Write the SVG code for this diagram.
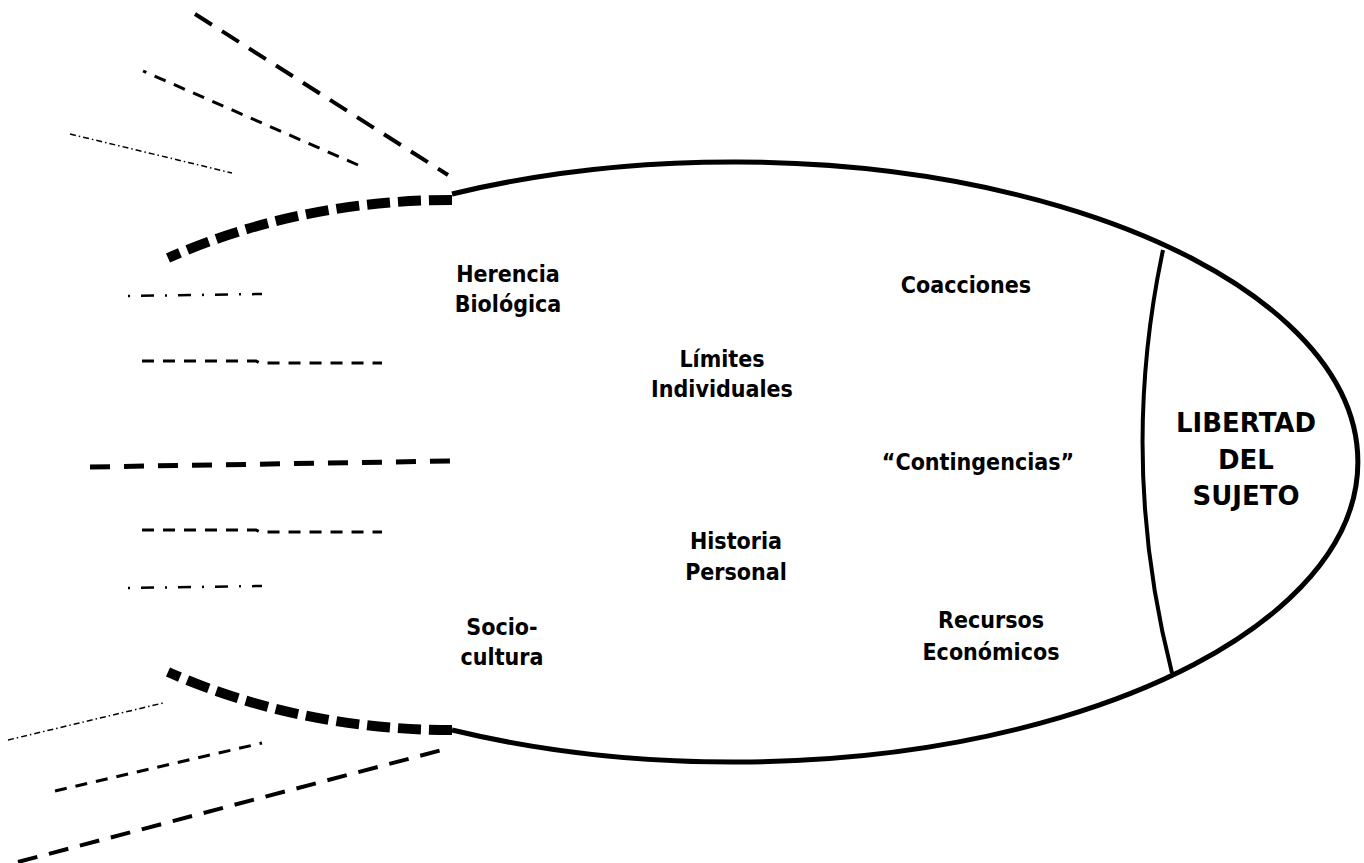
<svg xmlns="http://www.w3.org/2000/svg" width="1364" height="863" viewBox="0 0 1364 863">
<style>
  .solid { fill: none; stroke: #000; stroke-width: 5; }
  .inner { fill: none; stroke: #000; stroke-width: 4; }
  .thickarc { fill: none; stroke: #000; stroke-width: 10; stroke-dasharray: 23 8; }
  .longdash { fill: none; stroke: #000; stroke-width: 4; stroke-dasharray: 20 12; }
  .meddash { fill: none; stroke: #000; stroke-width: 3; stroke-dasharray: 12 9; }
  .dashdot { fill: none; stroke: #000; stroke-width: 2.5; stroke-dasharray: 13 11 2 11; }
  .thindashdot { fill: none; stroke: #000; stroke-width: 1.5; stroke-dasharray: 6 3 1.5 3; }
  .hthick { fill: none; stroke: #000; stroke-width: 5; stroke-dasharray: 20 14; }
  .lbl { font-family: "DejaVu Sans Condensed", "DejaVu Sans", sans-serif; font-weight: bold; font-size: 23px; fill: #000; text-anchor: middle; }
  .big { font-family: "DejaVu Sans", sans-serif; font-weight: bold; font-size: 26px; fill: #000; text-anchor: middle; }
</style>
<rect width="1364" height="863" fill="#fff"/>
<g id="capsule">
  <path class="solid" d="M452,194 A625,300 0 1 1 452,730"/>
  <path class="thickarc" d="M452,200 Q300,200 168,258"/>
  <path class="thickarc" d="M452,730 Q300,730 168,672"/>
</g>
<g id="libertad">
  <path class="inner" d="M1163,250 Q1118,462 1172,673"/>
  <text class="big" x="1246" y="432">LIBERTAD</text>
  <text class="big" x="1246" y="469">DEL</text>
  <text class="big" x="1246" y="505">SUJETO</text>
</g>
<g id="connectors">
  <line class="longdash" x1="195" y1="14" x2="448" y2="175"/>
  <line class="meddash" x1="358" y1="165" x2="143" y2="71"/>
  <line class="thindashdot" x1="70" y1="134" x2="232" y2="173"/>
  <line class="dashdot" x1="128" y1="296" x2="262" y2="294" stroke-dashoffset="24"/>
  <polyline class="meddash" points="142,361 256,361 260,363 382,363"/>
  <line class="hthick" x1="90" y1="467" x2="450" y2="461"/>
  <polyline class="meddash" points="142,530 256,530 260,532 382,532"/>
  <line class="dashdot" x1="128" y1="588" x2="262" y2="586" stroke-dashoffset="24"/>
  <line class="thindashdot" x1="8" y1="740" x2="163" y2="703"/>
  <line class="meddash" x1="55" y1="791" x2="262" y2="743"/>
  <line class="longdash" x1="18" y1="862" x2="442" y2="750"/>
</g>
<g id="herencia">
  <text class="lbl" x="508" y="282">Herencia</text>
  <text class="lbl" x="508" y="312">Biológica</text>
</g>
<g id="coacciones">
  <text class="lbl" x="966" y="293">Coacciones</text>
</g>
<g id="limites">
  <text class="lbl" x="722" y="367">Límites</text>
  <text class="lbl" x="722" y="397">Individuales</text>
</g>
<g id="contingencias">
  <text class="lbl" x="978" y="470">“Contingencias”</text>
</g>
<g id="historia">
  <text class="lbl" x="736" y="549">Historia</text>
  <text class="lbl" x="736" y="580">Personal</text>
</g>
<g id="sociocultura">
  <text class="lbl" x="502" y="635">Socio-</text>
  <text class="lbl" x="502" y="665">cultura</text>
</g>
<g id="recursos">
  <text class="lbl" x="991" y="628">Recursos</text>
  <text class="lbl" x="991" y="660">Económicos</text>
</g>
</svg>
